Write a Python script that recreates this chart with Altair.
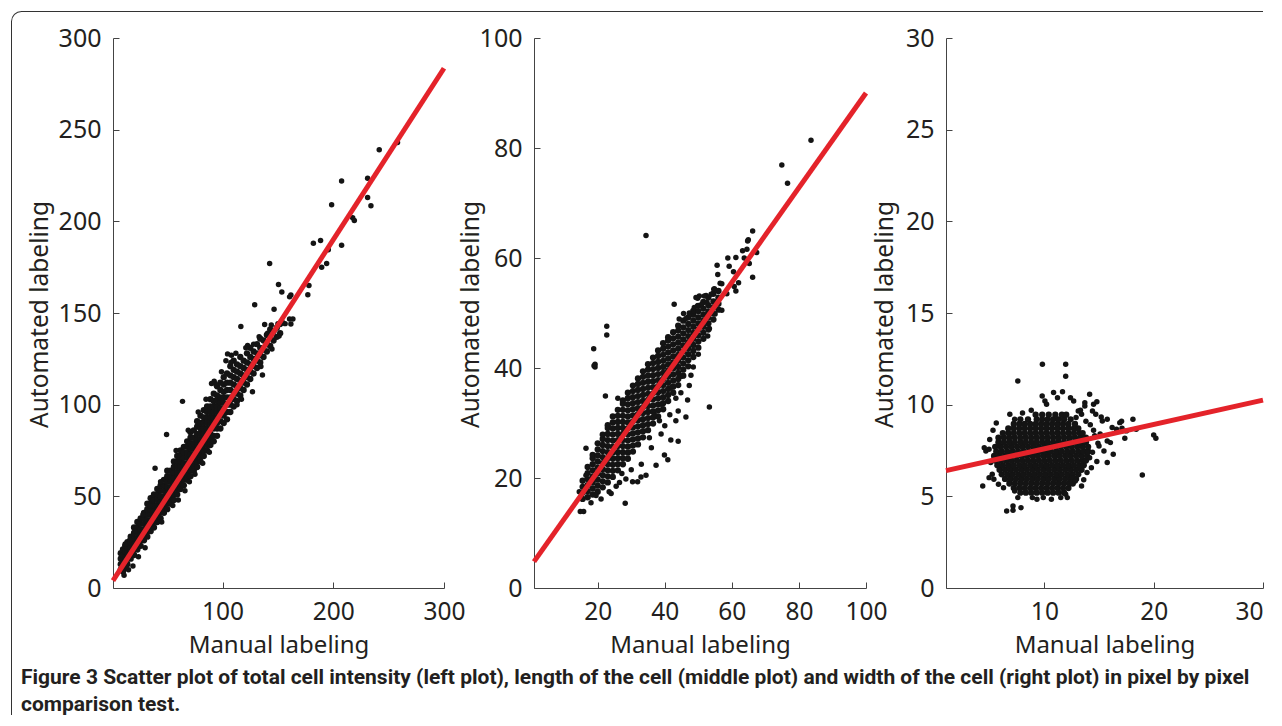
import altair as alt
import pandas as pd

# ---------------- values ----------------
# Panel 1: total cell intensity
p1_cols = [8, 10, 12, 14, 17, 20, 23, 26, 29, 32, 35, 38, 41, 44, 47, 50, 53, 56, 59, 62,
           65, 68, 71, 74, 77, 80, 83, 86, 89, 92, 95, 98, 101, 104, 107, 110, 113, 116, 119, 122,
           125, 128, 131, 134, 137, 140, 143, 146, 149, 152]
p1_col_ys = [
    [10, 13, 16, 19], [9, 12, 15, 18, 21], [11, 14, 17, 20, 23], [13, 16, 19, 22, 25],
    [16, 19, 22, 25, 28], [18, 21, 24, 27, 30, 33], [21, 24, 27, 30, 33, 36], [23, 26, 29, 32, 35, 38],
    [26, 29, 32, 35, 38, 41], [28, 31, 34, 37, 40, 43, 46], [31, 34, 37, 40, 43, 46, 49],
    [33, 36, 39, 42, 45, 48, 51], [36, 39, 42, 45, 48, 51, 54], [38, 41, 44, 47, 50, 53, 56],
    [41, 44, 47, 50, 53, 56, 59], [43, 46, 49, 52, 55, 58, 61, 64], [46, 49, 52, 55, 58, 61, 64],
    [48, 51, 54, 57, 60, 63, 66, 69], [51, 54, 57, 60, 63, 66, 69, 72], [54, 57, 60, 63, 66, 69, 72, 75],
    [56, 59, 62, 65, 68, 71, 74, 77], [59, 62, 65, 68, 71, 74, 77, 80], [61, 64, 67, 70, 73, 76, 79, 82, 85],
    [64, 67, 70, 73, 76, 79, 82, 86], [66, 69, 72, 75, 78, 81, 84, 88, 91], [69, 72, 75, 78, 81, 84, 87, 90, 94],
    [72, 75, 78, 81, 84, 87, 90, 93, 97], [75, 78, 81, 84, 87, 90, 93, 96, 99], [78, 81, 84, 87, 90, 93, 96, 99, 103],
    [80, 83, 87, 90, 93, 96, 99, 102, 106], [83, 87, 90, 93, 96, 99, 102, 105, 110], [87, 91, 95, 98, 101, 104, 108, 112],
    [90, 94, 98, 101, 104, 107, 111, 115], [92, 96, 100, 104, 108, 112, 117], [96, 100, 104, 108, 112, 116, 121],
    [99, 103, 107, 111, 115, 119, 124], [102, 106, 110, 114, 118, 122], [105, 109, 113, 117, 121, 126],
    [108, 112, 116, 120, 124], [111, 115, 119, 123, 128], [114, 118, 122, 126, 131], [117, 121, 125, 129],
    [120, 124, 128, 133], [123, 127, 131, 136], [126, 130, 135], [129, 133, 138], [132, 137, 141],
    [135, 140], [137, 142], [139, 144],
]
p1_out_x = [258, 241.5, 231, 231, 234, 207.5, 198.5, 217.5, 219, 207.5, 194, 189.5, 195.5, 182, 188.5,
            177, 178, 142.5, 150.5, 153.5, 146.5, 129, 160.5, 161.7, 160.5, 163.5, 161.7, 116.5, 154, 138,
            144, 150, 156.5, 140.6, 151, 144.6, 133, 134.6, 136, 127, 104.5, 107.5, 63.8, 49.4, 39,
            92.4, 94, 90, 122.6, 121, 128, 118, 124, 129, 113, 117, 88, 70, 75, 60,
            55, 30, 24, 45, 82, 66, 34, 28, 44, 58, 69, 78, 85, 99, 103,
            108, 112, 16, 21, 12, 19, 15, 11]
p1_out_y = [243, 239, 223.5, 213, 208.5, 222, 209, 202, 200.5, 187, 177, 175, 184.5, 188, 189.5,
            160, 165, 177, 165.5, 161.5, 152, 154.5, 158.8, 159.8, 146.7, 146.7, 144, 142.6, 145, 143.7,
            143.5, 144.2, 144.2, 139, 137.5, 130.4, 137, 120.8, 116.2, 107, 127.7, 123, 101.8, 83.7, 65.3,
            112.8, 111, 111.5, 132.3, 131, 133, 116, 119, 125, 100, 103, 74, 58, 62, 48,
            45, 22, 17, 36, 68, 53, 45, 40, 58, 75, 86, 96, 103, 118, 124,
            127, 128, 26, 31, 24, 12, 10, 7]
p1_line_x = [1, 300]
p1_line_y = [4.0, 283.5]

# Panel 2: length of the cell
p2_cols = [15.5, 17, 18.5, 20, 21.5, 23, 24.5, 26, 27.5, 29, 30.5, 32, 33.5, 35, 36.5, 38, 39.5,
           41, 42.5, 44, 45.5, 47, 48.5, 50, 51.5, 53, 54.5, 56]
p2_col_ys = [
    [16.2, 17.3, 18.4, 19.5],
    [16.5, 17.6, 18.7, 19.8, 20.9, 22.0],
    [17.0, 18.1, 19.2, 20.3, 21.4, 22.5, 23.6, 24.2],
    [17.5, 18.6, 19.7, 20.8, 21.9, 23.0, 24.1, 25.2, 26.3],
    [18.3, 19.4, 20.5, 21.6, 22.7, 23.8, 24.9, 26.0, 27.1, 27.9],
    [19.2, 20.3, 21.4, 22.5, 23.6, 24.7, 25.8, 26.9, 28.0, 29.1, 29.6],
    [20.2, 21.3, 22.4, 23.5, 24.6, 25.7, 26.8, 27.9, 29.0, 30.1, 31.2],
    [21.4, 22.5, 23.6, 24.7, 25.8, 26.9, 28.0, 29.1, 30.2, 31.3, 32.4],
    [22.5, 23.6, 24.7, 25.8, 26.9, 28.0, 29.1, 30.2, 31.3, 32.4, 33.5, 34.1],
    [23.5, 24.6, 25.7, 26.8, 27.9, 29.0, 30.1, 31.2, 32.3, 33.4, 34.5, 35.5],
    [24.8, 25.9, 27.0, 28.1, 29.2, 30.3, 31.4, 32.5, 33.6, 34.7, 35.8, 36.8],
    [26.1, 27.2, 28.3, 29.4, 30.5, 31.6, 32.7, 33.8, 34.9, 36.0, 37.1, 38.1],
    [27.4, 28.5, 29.6, 30.7, 31.8, 32.9, 34.0, 35.1, 36.2, 37.3, 38.4, 39.4],
    [28.7, 29.8, 30.9, 32.0, 33.1, 34.2, 35.3, 36.4, 37.5, 38.6, 39.7, 40.7],
    [29.9, 31.0, 32.1, 33.2, 34.3, 35.4, 36.5, 37.6, 38.7, 39.8, 40.9, 41.9],
    [31.2, 32.3, 33.4, 34.5, 35.6, 36.7, 37.8, 38.9, 40.0, 41.1, 42.2, 43.2],
    [32.5, 33.6, 34.7, 35.8, 36.9, 38.0, 39.1, 40.2, 41.3, 42.4, 43.5, 44.5],
    [34.0, 35.1, 36.2, 37.3, 38.4, 39.5, 40.6, 41.7, 42.8, 43.9, 45.0, 45.6],
    [35.5, 36.6, 37.7, 38.8, 39.9, 41.0, 42.1, 43.2, 44.3, 45.4, 46.5],
    [36.9, 38.0, 39.1, 40.2, 41.3, 42.4, 43.5, 44.6, 45.7, 46.8, 47.7],
    [38.6, 39.7, 40.8, 41.9, 43.0, 44.1, 45.2, 46.3, 47.4, 48.6],
    [40.3, 41.4, 42.5, 43.6, 44.7, 45.8, 46.9, 48.0, 49.2],
    [42.0, 43.1, 44.2, 45.3, 46.4, 47.5, 48.6, 49.7, 50.4],
    [43.7, 44.8, 45.9, 47.0, 48.1, 49.2, 50.3, 51.3],
    [45.3, 46.4, 47.5, 48.6, 49.7, 50.8, 52.0],
    [47.0, 48.1, 49.2, 50.3, 51.4, 52.8],
    [48.8, 49.9, 51.0, 52.1, 53.5],
    [50.6, 51.7, 52.8, 54.0],
]
p2_out_x = [83.6, 74.9, 76.6, 34.4, 66.2, 64.9, 64.7, 64.5, 63.2, 63.7, 67.4, 65.2, 61.2, 58.8, 55.6,
            59.2, 55.8, 66.2, 60.7, 61.2, 56.5, 57, 54.8, 54.6, 53.8, 52.3, 51.8, 50.3, 49.3, 49.8,
            52.6, 51, 49.8, 48.8, 42.8, 47.3, 45.6, 44.3, 46.3, 52.8, 55, 55.8, 53.3, 52.8, 22.7,
            22.7, 18.8, 19.2, 19.2, 18.9, 22.3, 26, 47.8, 47.3, 44.8, 46.8, 43.3, 44, 53.3, 46.3,
            43.3, 38.9, 36.9, 41.8, 44, 39.9, 40.9, 37.4, 34.4, 32.9, 31.9, 30.4, 28.4, 27.2, 28.2,
            23.4, 16.5, 15.8, 14.8, 38.9, 35.4, 38.4, 41.5, 40, 36, 33, 30, 25.5, 21, 19.5,
            18, 42, 45, 48.5, 50, 24, 26.5, 57, 58.5, 62, 64.5, 60.5, 16.5, 14.5]
p2_out_y = [81.4, 76.9, 73.6, 64.1, 64.9, 63.3, 63.1, 61.6, 61.3, 60, 61, 59, 60.1, 60, 58.7,
            58.5, 57, 56.5, 54.8, 54, 55.4, 55.3, 54.4, 54.3, 53.4, 53.2, 53.1, 53.1, 52.8, 52.7,
            51.9, 51.6, 51.3, 51, 51.6, 50, 49.9, 48.9, 49, 49.8, 49.8, 51.7, 47.2, 45.8, 47.6,
            46, 43.5, 40.7, 40.2, 40.4, 34.9, 34.5, 38.7, 36.8, 35.5, 34.2, 34.5, 32.2, 32.9, 31.1,
            30.4, 33.4, 31.5, 26.9, 26.7, 24.2, 23.3, 22.3, 20.5, 20.2, 19.3, 19.3, 19.8, 20.8, 15.4,
            17.5, 25.4, 13.9, 13.9, 28, 27.3, 30.4, 31.5, 29.5, 25.5, 22.5, 21.5, 18.5, 16.2, 16.8,
            15.5, 36.5, 38.5, 40.2, 42.5, 17.2, 19.2, 50.5, 53.5, 55.5, 59.5, 57.5, 20.5, 17.5]
p2_line_x = [1, 100]
p2_line_y = [4.8, 90.0]

# Panel 3: width of the cell
p3_rows = [5.2, 5.45, 5.7, 5.95, 6.2, 6.45, 6.7, 6.95, 7.2, 7.45, 7.7, 7.95, 8.2, 8.45, 8.7, 8.95, 9.2, 9.45]
p3_row_xs = [
    [7.8, 8.3, 8.8, 9.3, 9.8, 10.3, 10.8, 11.3, 11.8],
    [7.2, 7.7, 8.2, 8.7, 9.2, 9.7, 10.2, 10.7, 11.2, 11.7, 12.2],
    [6.8, 7.3, 7.8, 8.3, 8.8, 9.3, 9.8, 10.3, 10.8, 11.3, 11.8, 12.3, 12.6],
    [6.4, 6.9, 7.4, 7.9, 8.4, 8.9, 9.4, 9.9, 10.4, 10.9, 11.4, 11.9, 12.4, 12.9],
    [6.1, 6.6, 7.1, 7.6, 8.1, 8.6, 9.1, 9.6, 10.1, 10.6, 11.1, 11.6, 12.1, 12.6, 13.1],
    [5.9, 6.4, 6.9, 7.4, 7.9, 8.4, 8.9, 9.4, 9.9, 10.4, 10.9, 11.4, 11.9, 12.4, 12.9, 13.4],
    [5.7, 6.2, 6.7, 7.2, 7.7, 8.2, 8.7, 9.2, 9.7, 10.2, 10.7, 11.2, 11.7, 12.2, 12.7, 13.2, 13.6],
    [5.5, 6.0, 6.5, 7.0, 7.5, 8.0, 8.5, 9.0, 9.5, 10.0, 10.5, 11.0, 11.5, 12.0, 12.5, 13.0, 13.5, 13.8],
    [5.4, 5.9, 6.4, 6.9, 7.4, 7.9, 8.4, 8.9, 9.4, 9.9, 10.4, 10.9, 11.4, 11.9, 12.4, 12.9, 13.4, 13.9],
    [5.6, 6.1, 6.6, 7.1, 7.6, 8.1, 8.6, 9.1, 9.6, 10.1, 10.6, 11.1, 11.6, 12.1, 12.6, 13.1, 13.6, 14.0],
    [5.5, 6.0, 6.5, 7.0, 7.5, 8.0, 8.5, 9.0, 9.5, 10.0, 10.5, 11.0, 11.5, 12.0, 12.5, 13.0, 13.5, 14.0],
    [5.8, 6.3, 6.8, 7.3, 7.8, 8.3, 8.8, 9.3, 9.8, 10.3, 10.8, 11.3, 11.8, 12.3, 12.8, 13.3, 13.8],
    [5.8, 6.3, 6.8, 7.3, 7.8, 8.3, 8.8, 9.3, 9.8, 10.3, 10.8, 11.3, 11.8, 12.3, 12.8, 13.3, 13.8],
    [6.2, 6.7, 7.2, 7.7, 8.2, 8.7, 9.2, 9.7, 10.2, 10.7, 11.2, 11.7, 12.2, 12.7, 13.2, 13.5],
    [6.7, 7.2, 7.7, 8.2, 8.7, 9.2, 9.7, 10.2, 10.7, 11.2, 11.7, 12.2, 12.7, 13.1],
    [7.2, 7.7, 8.2, 8.7, 9.2, 9.7, 10.2, 10.7, 11.2, 11.7, 12.2, 12.8],
    [7.8, 8.5, 9.3, 9.8, 10.3, 10.8, 11.3, 11.8, 12.4],
    [9.2, 9.8, 10.4, 11.0, 11.6, 12.0],
]
p3_out_x = [9.82, 11.95, 11.95, 7.57, 9.8, 10.05, 10.2, 10.84, 11.2, 11.66, 12.39, 12.68, 14.14, 13.7, 13.7,
            14.5, 14.8, 13.1, 13.4, 14.4, 14.7, 15.2, 15.3, 15.75, 16.9, 18.1, 17.06, 16.2, 16.6, 17.1,
            17.5, 18.4, 20.0, 20.2, 17.36, 15.75, 16.04, 15.0, 15.45, 18.96, 15.75, 16.3, 14.3, 14.14, 13.4,
            12.54, 12.83, 11.95, 11.5, 12.1, 10.64, 9.9, 9.32, 8.9, 7.86, 7.13, 6.55, 7.13, 7.57, 7.28,
            4.36, 5.23, 4.94, 5.38, 5.8, 6.26, 4.65, 4.5, 4.94, 5.09, 6.84, 7.28, 14.2, 14.6, 14.9,
            14.4, 14.8, 13.9, 13.6, 14.5, 15.1, 13.8, 12.9, 13.3, 8.0, 8.8, 5.0, 5.3, 5.6]
p3_out_y = [12.2, 12.2, 11.55, 11.29, 10.47, 10.2, 10.02, 10.66, 10.38, 10.71, 10.38, 10.2, 10.57, 10.11, 9.93,
            10.02, 10.16, 9.66, 9.48, 9.66, 9.48, 9.33, 9.11, 9.2, 9.02, 9.2, 9.1, 8.75, 8.66, 8.71,
            8.57, 8.66, 8.35, 8.17, 8.17, 8.02, 7.93, 7.75, 7.47, 6.16, 6.84, 7.29, 6.56, 7.11, 5.56,
            6.02, 5.84, 5.11, 4.93, 4.93, 4.84, 4.93, 4.84, 4.93, 4.38, 4.47, 4.2, 4.24, 4.93, 5.29,
            5.56, 6.2, 6.02, 5.93, 5.66, 5.47, 7.47, 7.65, 7.57, 6.84, 9.48, 9.2, 8.9, 8.3, 7.9,
            7.4, 6.9, 6.3, 5.9, 8.6, 8.4, 9.1, 9.3, 9.7, 9.55, 9.7, 8.1, 8.6, 9.0]
p3_line_x = [1, 30]
p3_line_y = [6.4, 10.25]

# axis ticks
p1_xticks = [100, 200, 300]
p1_yticks = [0, 50, 100, 150, 200, 250, 300]
p2_xticks = [20, 40, 60, 80, 100]
p2_yticks = [0, 20, 40, 60, 80, 100]
p3_xticks = [10, 20, 30]
p3_yticks = [0, 5, 10, 15, 20, 25, 30]

x_label = "Manual labeling"
y_label = "Automated labeling"
caption_lines = [
    "Figure 3 Scatter plot of total cell intensity (left plot), length of the cell (middle plot) and width of the cell (right plot) in pixel by pixel",
    "comparison test.",
]

# ---------------- building ----------------
TXT = "#231f20"
AX = "#444444"
RED = "#e4232a"
FONT = "Noto Sans"
H = 550


def points_df(cols, col_ys, rows, row_xs, ox, oy):
    xs, ys, core = [], [], []
    for c, yl in zip(cols, col_ys):
        for v in yl:
            xs.append(c)
            ys.append(v)
            core.append(1)
    for r, xl in zip(rows, row_xs):
        for v in xl:
            xs.append(v)
            ys.append(r)
            core.append(1)
    for a, b in zip(ox, oy):
        xs.append(a)
        ys.append(b)
        core.append(0)
    return pd.DataFrame({"x": xs, "y": ys, "core": core})


assert len(p1_out_x) == len(p1_out_y)
assert len(p2_out_x) == len(p2_out_y)
assert len(p3_out_x) == len(p3_out_y)

df1 = points_df(p1_cols, p1_col_ys, [], [], p1_out_x, p1_out_y)
df2 = points_df(p2_cols, p2_col_ys, [], [], p2_out_x, p2_out_y)
df3 = points_df([], [], p3_rows, p3_row_xs, p3_out_x, p3_out_y)
ln1 = pd.DataFrame({"x": p1_line_x, "y": p1_line_y})
ln2 = pd.DataFrame({"x": p2_line_x, "y": p2_line_y})
ln3 = pd.DataFrame({"x": p3_line_x, "y": p3_line_y})


def panel(pts, ln, xdom, ydom, xticks, yticks, view_w, range_w, title_x, flush=False):
    xs = alt.Scale(domain=xdom, range=[0, range_w], nice=False, zero=False)
    ys = alt.Scale(domain=ydom, nice=False, zero=False)
    main_x = alt.Axis(orient="bottom", values=xticks, title=x_label, ticks=False, tickSize=0,
                      labelPadding=12.5, labelFont=FONT, labelFontSize=24.5, labelColor=TXT,
                      labelFlush=flush, labelOverlap=False,
                      titleFont=FONT, titleFontSize=24, titleFontWeight="normal", titleColor=TXT,
                      titleBaseline="alphabetic", titleY=64, domainColor=AX, domainWidth=1, grid=False)
    main_y = alt.Axis(orient="left", values=yticks, title=y_label, ticks=False, tickSize=0,
                      labelPadding=12, labelFont=FONT, labelFontSize=25, labelColor=TXT, labelOverlap=False,
                      titleFont=FONT, titleFontSize=24.5, titleFontWeight="normal", titleColor=TXT,
                      titleBaseline="middle", titleAlign="center", titleX=title_x, titleY=276,
                      domainColor=AX, domainWidth=1, grid=False)
    tick_x = alt.Axis(orient="top", offset=-H, values=xticks, labels=False, domain=False, ticks=True,
                      tickSize=6, tickColor=AX, tickWidth=1, title="", grid=False)
    tick_y = alt.Axis(orient="right", offset=-view_w, values=yticks, labels=False, domain=False, ticks=True,
                      tickSize=6, tickColor=AX, tickWidth=1, title="", grid=False)
    dots = alt.Chart(pts).mark_circle(color="#141414", opacity=1).encode(
        x=alt.X("x:Q", scale=xs, axis=main_x),
        y=alt.Y("y:Q", scale=ys, axis=main_y),
        size=alt.Size("core:Q", scale=alt.Scale(domain=[0, 1], range=[30, 40]), legend=None),
    )
    line = alt.Chart(ln).mark_line(color=RED, strokeWidth=5).encode(
        x=alt.X("x:Q", scale=xs, axis=tick_x),
        y=alt.Y("y:Q", scale=ys, axis=tick_y),
    )
    return alt.layer(dots, line).resolve_axis(x="independent", y="independent").properties(
        width=view_w, height=H)


c1 = panel(df1, ln1, [1, 300], [0, 300], p1_xticks, p1_yticks, 341, 331, -72.5)
c2 = panel(df2, ln2, [1, 100], [0, 100], p2_xticks, p2_yticks, 332, 332, -62.5)
c3 = panel(df3, ln3, [1, 30], [0, 30], p3_xticks, p3_yticks, 317, 317, -60.5, flush=True)

# caption and frame, placed relative to the caption view (origin below panel 1)
one = pd.DataFrame({"k": [0]})
cap_text = alt.Chart(one).mark_text(
    align="left", baseline="alphabetic", font="Roboto", fontSize=21,
    fontWeight="bold", color=TXT, lineHeight=27, text=caption_lines,
).encode(x=alt.value(-92), y=alt.value(56))
frame_top = alt.Chart(one).mark_rule(color="#333333", strokeWidth=1).encode(
    x=alt.value(-92), x2=alt.value(1150), y=alt.value(-616.5))
frame_left = alt.Chart(one).mark_rule(color="#333333", strokeWidth=1).encode(
    x=alt.value(-101.5), y=alt.value(-607), y2=alt.value(87))
frame_corner = alt.Chart(one).mark_arc(
    theta=4.712389, theta2=6.283185, innerRadius=9.5, outerRadius=10.5, color="#333333"
).encode(x=alt.value(-91.5), y=alt.value(-606.5))
cap = alt.layer(cap_text, frame_top, frame_left, frame_corner).properties(width=300, height=20)

chart = alt.concat(c1, c2, c3, cap, columns=3, spacing={"row": 40, "column": 80},
                   bounds="flush", align="each").properties(
    padding={"left": 2, "top": 2, "right": 0, "bottom": 0},
    background="white",
).configure_view(stroke="transparent")

chart.save("out.html", embed_options={"renderer": "svg", "actions": False})
